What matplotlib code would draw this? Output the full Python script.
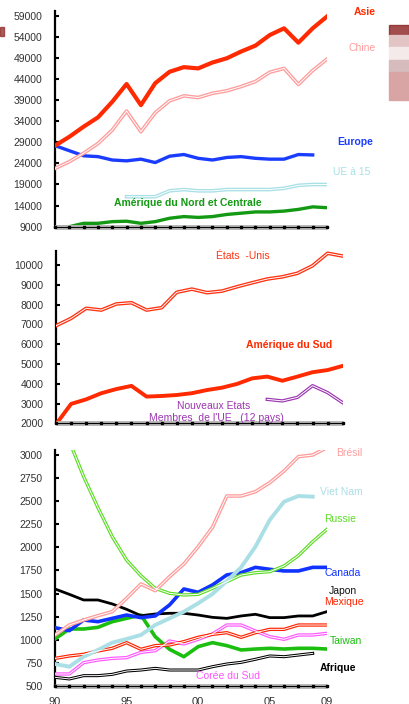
import numpy as np
import matplotlib
matplotlib.use('Agg')
import matplotlib.pyplot as plt
from matplotlib.patches import Rectangle

plt.rcParams['font.family'] = ['Liberation Sans', 'DejaVu Sans']

years = list(range(1990, 2010))

# panel 1 (top)
asie = [28200, 30300, 32700, 34900, 38600, 42800, 37800, 43000, 45700, 46800,
        46500, 47900, 48900, 50500, 51900, 54400, 56000, 52600, 56000, 58800]
chine = [22800, 24400, 26400, 28700, 31900, 36400, 31500, 36000, 38800, 40000,
         39600, 40600, 41200, 42200, 43400, 45600, 46500, 42700, 46000, 48700]
europe = [28200, 27000, 25800, 25600, 24800, 24600, 25000, 24200, 25700, 26100,
          25200, 24800, 25400, 25600, 25200, 25000, 25000, 26100, 26000]
ue15_years = list(range(1995, 2010))
ue15 = [16100, 16100, 16100, 17500, 17800, 17500, 17500, 17800, 17800, 17800,
        17800, 18100, 18800, 19000, 19000]
am_nord = [9000, 9000, 9800, 9800, 10200, 10300, 9800, 10200, 11000, 11400,
           11200, 11400, 11900, 12200, 12500, 12500, 12700, 13100, 13700, 13500]

# panel 2 (middle)
etats_unis = [6930, 7300, 7810, 7720, 8030, 8090, 7720, 7840, 8620, 8780,
              8600, 8680, 8900, 9100, 9290, 9400, 9580, 9960, 10590, 10450]
am_sud = [1950, 2980, 3210, 3520, 3730, 3890, 3350, 3380, 3430, 3520,
          3680, 3800, 3990, 4270, 4360, 4150, 4360, 4580, 4690, 4900]
nem_years = list(range(2004, 2010))
nem = [3210, 3130, 3310, 3900, 3550, 3040]

# panel 3 (bottom)
bresil = [1052, 1160, 1214, 1261, 1305, 1449, 1604, 1532, 1683, 1820,
          2008, 2217, 2556, 2556, 2603, 2700, 2827, 2982, 3000, 3080]
vietnam = [738, 709, 817, 890, 969, 1009, 1052, 1160, 1232, 1304,
           1395, 1496, 1636, 1784, 2008, 2297, 2495, 2556, 2549]
russie = [3600, 3150, 2766, 2430, 2116, 1863, 1694, 1557, 1503, 1485,
          1492, 1557, 1629, 1701, 1726, 1737, 1799, 1911, 2062, 2196]
canada = [1131, 1099, 1214, 1196, 1232, 1268, 1240, 1258, 1377, 1550,
          1514, 1594, 1702, 1727, 1784, 1763, 1745, 1745, 1784, 1784]
japon = [1550, 1492, 1431, 1431, 1388, 1330, 1261, 1279, 1287, 1287,
         1268, 1243, 1232, 1258, 1276, 1240, 1240, 1258, 1258, 1305]
mexique = [799, 825, 843, 879, 908, 969, 897, 937, 944, 980,
           1027, 1059, 1077, 1027, 1077, 1113, 1113, 1160, 1160, 1160]
coree = [630, 630, 753, 781, 799, 807, 864, 882, 987, 955,
         1005, 1063, 1160, 1160, 1095, 1034, 1005, 1052, 1052, 1070]
taiwan = [1009, 1117, 1117, 1135, 1196, 1232, 1268, 1034, 897, 817,
          926, 969, 937, 890, 900, 908, 900, 908, 908, 900]
afrique = [594, 576, 612, 612, 626, 662, 673, 691, 673, 673,
           673, 709, 738, 756, 789, 825, 817, 835, 853]

W, H = 409, 704
fig = plt.figure(figsize=(W / 100, H / 100), dpi=100)
fig.patch.set_facecolor('white')


def px_axes(left, right, top, bottom):
    return fig.add_axes([left / W, 1 - bottom / H, (right - left) / W, (bottom - top) / H])


def draw(ax, x, y, color, lw=2.4, hollow=False):
    ax.plot(x[:len(y)], y, color=color, lw=lw, solid_joinstyle='round', zorder=3)
    if hollow:
        ax.plot(x[:len(y)], y, color='white', lw=0.7, zorder=4)


def style(ax, ymin, ymax, yticks):
    ax.set_xlim(1990, 2009)
    ax.set_ylim(ymin, ymax)
    for s in ['top', 'right', 'bottom']:
        ax.spines[s].set_visible(False)
    ax.spines['left'].set_linewidth(1.6)
    ax.set_yticks(yticks)
    ax.tick_params(axis='y', direction='in', length=3, width=1.5, pad=9,
                   labelsize=7.5, labelcolor='#333333')
    ax.set_xticks([])
    ax.patch.set_alpha(0)
    # grey base band with year markers
    ax.plot([1990, 2009], [ymin, ymin], color='#b4b4b4', lw=3.5, zorder=5, clip_on=False,
            solid_capstyle='butt')
    ax.plot([1990, 2009], [ymin, ymin], color='black', lw=0.8, zorder=6, clip_on=False)
    ax.plot(years, [ymin] * len(years), 's', color='black', ms=2, zorder=7, clip_on=False)


# --- panel 1
ax1 = px_axes(55, 327, 11, 226.7)
draw(ax1, years, am_nord, '#139913')
draw(ax1, ue15_years, ue15, '#a8e0e6', lw=2.6, hollow=True)
draw(ax1, years, europe, '#1a3cff')
draw(ax1, years, chine, '#ff9c9c', lw=2.6, hollow=True)
draw(ax1, years, asie, '#ff2a00', lw=3)
style(ax1, 9000, 60100, range(9000, 60000, 5000))

# --- panel 2
ax2 = px_axes(56, 342.7, 250.7, 423.3)
draw(ax2, years, am_sud, '#ff2a00', lw=2.8)
draw(ax2, years, etats_unis, '#ff3311', lw=2.6, hollow=True)
draw(ax2, nem_years, nem, '#9b35b0', lw=2.4, hollow=True)
style(ax2, 2000, 10720, range(2000, 10001, 1000))

# --- panel 3
ax3 = px_axes(55, 327, 450, 686)
draw(ax3, years, afrique, '#000000', lw=2.2, hollow=True)
draw(ax3, years, coree, '#ff55ff', lw=2.4, hollow=True)
draw(ax3, years, taiwan, '#1cbf10', lw=2.6)
draw(ax3, years, mexique, '#ff2200', lw=2.4, hollow=True)
draw(ax3, years, japon, '#000000', lw=2.0)
draw(ax3, years, canada, '#1133ff', lw=2.6)
draw(ax3, years, russie, '#5ddc26', lw=2.4, hollow=True)
draw(ax3, years, vietnam, '#aadfe6', lw=2.8)
draw(ax3, years, bresil, '#ff9c9c', lw=2.6, hollow=True)
style(ax3, 500, 3054, range(500, 3001, 250))

# x labels sit at the very bottom edge, partly cut as in the source slide
xt = [1990, 1995, 2000, 2005, 2009]
for yr, s in zip(xt, ['90', '95', '00', '05', '09']):
    ax3.text(yr, 500 - 11 * 10.82, s, ha='center', va='top',
             fontsize=8, color='#333333', clip_on=False)


# labels in pixel coords
def lab(x, y, s, color, bold=False, size=7.5, ha='center'):
    fig.text(x / W, 1 - y / H, s, color=color, fontsize=size, ha=ha, va='center',
             fontweight='bold' if bold else 'normal')


lab(365, 12, 'Asie', '#ff2a00', bold=True)
lab(362, 48, 'Chine', '#ff9c9c')
lab(355, 142, 'Europe', '#1a3cff', bold=True)
lab(352, 172, 'UE à 15', '#a8e0e6')
lab(188, 203, 'Amérique du Nord et Centrale', '#139913', bold=True)
lab(243, 256, 'États  -Unis', '#ff3311')
lab(289, 345, 'Amérique du Sud', '#ff2a00', bold=True)
lab(214, 406, 'Nouveaux Etats', '#9b35b0')
lab(216, 418, "Membres  de l'UE   (12 pays)", '#9b35b0')
lab(349, 453, 'Brésil', '#ff9c9c')
lab(341, 492, 'Viet Nam', '#aadfe6')
lab(340, 519, 'Russie', '#5ddc26')
lab(343, 573, 'Canada', '#1133ff')
lab(343, 591, 'Japon', '#111111')
lab(344, 602, 'Mexique', '#ff2200')
lab(346, 641, 'Taiwan', '#1cbf10')
lab(338, 668, 'Afrique', '#000000', bold=True)
lab(228, 676, 'Corée du Sud', '#ff55ff')

# slide background remnants
bg = fig.add_axes([0, 0, 1, 1], zorder=-1)
bg.set_xlim(0, W)
bg.set_ylim(H, 0)
bg.axis('off')
bg.add_patch(Rectangle((0, 27), 4, 9, color='#8b1a1a', alpha=0.7))
bg.add_patch(Rectangle((389, 25), 20, 10, color='#8b2020', alpha=0.8))
bg.add_patch(Rectangle((389, 35), 20, 12, color='#e2c4c4'))
bg.add_patch(Rectangle((389, 47), 20, 13, color='#f4eaea'))
bg.add_patch(Rectangle((389, 60), 20, 12, color='#d6bcbc'))
bg.add_patch(Rectangle((389, 72), 20, 28, color='#d8a4a4'))

fig.savefig('out.png', dpi=100)
